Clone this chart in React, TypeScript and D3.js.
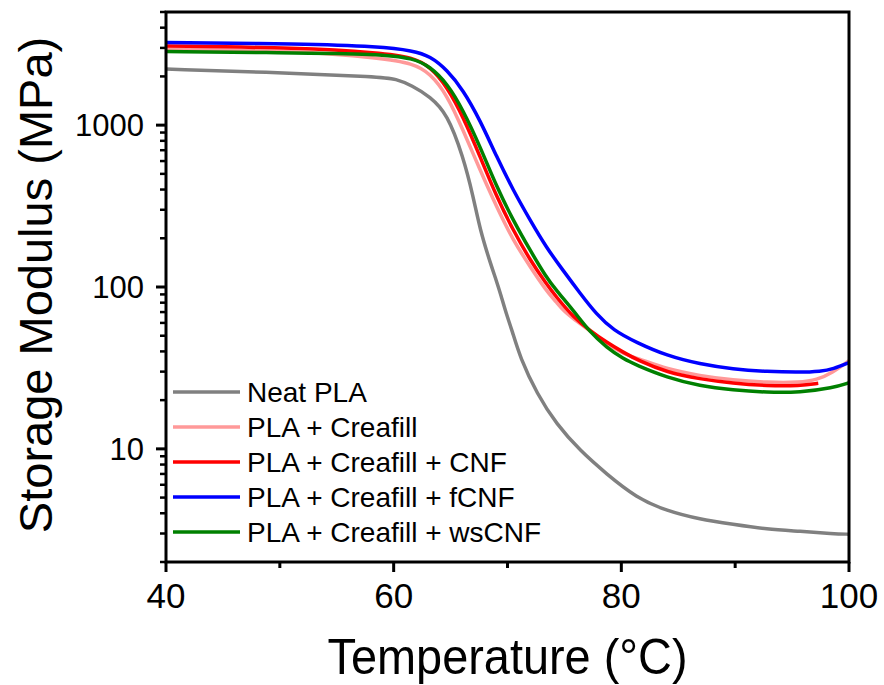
import React from "react";
import * as d3 from "d3";

const xTicksMajor = [40, 60, 80, 100];
const xTicksMinor = [50, 70, 90];
const yTicksMajor = [10, 100, 1000];
const yTickLabels = ["10", "100", "1000"];

const seriesNames = [
  "Neat PLA",
  "PLA + Creafill",
  "PLA + Creafill + CNF",
  "PLA + Creafill + fCNF",
  "PLA + Creafill + wsCNF",
];
const seriesColors = ["#808080", "#FF9999", "#FF0000", "#0000FF", "#008000"];

const tempNeat = [40, 50, 58.8, 60.2, 61.6, 63.2, 64.7, 66.1, 67.0, 67.6, 68.5, 69.05, 69.4, 69.9, 70.4, 71.1, 72.6, 74.3, 76.4, 78.7, 81.3, 84.0, 86.9, 89.8, 92.8, 95.7, 98.6, 100];
const modNeat = [2220, 2110, 1990, 1930, 1760, 1500, 1180, 640, 360, 224, 140, 108, 90, 68, 54, 36.7, 21.8, 14.2, 9.7, 7.0, 5.0, 4.13, 3.67, 3.42, 3.18, 3.10, 2.99, 2.97];

const tempCrea = [40, 51.8, 58.8, 61.7, 63.2, 64.7, 66.1, 67.6, 69.05, 70.5, 72.0, 73.4, 74.3, 74.9, 75.8, 77.25, 78.7, 80.2, 81.6, 84.0, 86.9, 89.8, 92.8, 95.7, 97.15, 98.6, 100];
const modCrea = [2940, 2880, 2590, 2410, 2090, 1535, 931, 526, 312, 194, 133, 95, 80.5, 71.5, 63.5, 53.8, 44.5, 38.5, 35.9, 31.1, 28.3, 26.6, 25.7, 25.7, 26.6, 29.7, 35.1];

const tempCNF = [40, 51.8, 58.8, 61.7, 63.2, 64.7, 66.1, 67.6, 69.05, 70.5, 72.0, 73.4, 74.3, 75.8, 77.25, 78.7, 80.2, 81.5, 84.0, 86.9, 89.8, 92.8, 95.7, 97.3];
const modCNF = [3080, 3010, 2800, 2625, 2300, 1725, 1126, 637, 360, 224, 146, 105, 86.5, 65, 53.8, 45.5, 39.4, 35.1, 29.7, 27.0, 25.4, 24.5, 24.5, 25.4];

const tempFCNF = [40, 51.8, 58.8, 61.7, 63.2, 64.7, 66.1, 67.6, 69.05, 70.5, 72.0, 73.4, 74.9, 76.4, 77.8, 79.3, 81.3, 84.0, 86.9, 89.8, 92.8, 95.7, 97.5, 98.6, 100];
const modFCNF = [3240, 3180, 3055, 2880, 2670, 2190, 1650, 1070, 637, 396, 258, 176, 126, 91, 68, 54, 45.5, 37.6, 33.4, 31.1, 30.0, 29.7, 30.1, 31.1, 34.1];

const tempWs = [40, 50, 58.8, 61.7, 63.2, 64.7, 66.1, 67.6, 69.05, 70.5, 72.0, 73.4, 74.3, 75.8, 77.25, 78.7, 80.2, 81.3, 84.0, 86.9, 89.8, 92.8, 95.7, 98.6, 100];
const modWs = [2850, 2800, 2754, 2590, 2300, 1810, 1240, 735, 415, 258, 168, 115, 95, 71.5, 52.5, 42.4, 35.9, 33, 27.6, 24.5, 23.1, 22.3, 22.3, 23.8, 25.6];

const seriesTemps = [tempNeat, tempCrea, tempCNF, tempFCNF, tempWs];
const seriesMods = [modNeat, modCrea, modCNF, modFCNF, modWs];

const W = 884;
const H = 685;
const L = 166, R = 849, T = 12, B = 562;
const FONT = "'Liberation Sans', Arial, Helvetica, sans-serif";

export default function App() {
  const x = d3.scaleLinear().domain([40, 100]).range([L, R]);
  const y = d3.scaleLog().domain([2, 5000]).range([B, T]);

  const yMinor: number[] = [];
  [1, 10, 100, 1000].forEach((dec) => {
    for (let k = 2; k <= 9; k++) {
      const v = dec * k;
      if (v >= 2 && v <= 5000 && !yTicksMajor.includes(v)) yMinor.push(v);
    }
  });

  const line = d3
    .line<[number, number]>()
    .x((d) => x(d[0]))
    .y((d) => y(d[1]))
    .curve(d3.curveBasis);

  const legendY0 = 392;
  const legendDy = 35;

  return (
    <svg
      width={W}
      height={H}
      style={{ position: "absolute", left: 0, top: 0, background: "#fff" }}
      fontFamily={FONT}
    >
      <rect x={0} y={0} width={W} height={H} fill="#fff" />
      <defs>
        <clipPath id="plotclip">
          <rect x={L} y={T} width={R - L} height={B - T} />
        </clipPath>
      </defs>
      <g clipPath="url(#plotclip)">
        {seriesTemps.map((ts, i) => {
          const pts: [number, number][] = ts.map((t, j) => [t, seriesMods[i][j]]);
          return (
            <path
              key={i}
              d={line(pts) || ""}
              fill="none"
              stroke={seriesColors[i]}
              strokeWidth={3.5}
              strokeLinejoin="round"
            />
          );
        })}
      </g>

      {/* frame */}
      <rect x={L} y={T} width={R - L} height={B - T} fill="none" stroke="#000" strokeWidth={3} />

      {/* x ticks */}
      {xTicksMajor.map((t) => (
        <g key={"xm" + t}>
          <line x1={x(t)} x2={x(t)} y1={B} y2={B + 10} stroke="#000" strokeWidth={3} />
          <text x={x(t)} y={608} fontSize={35} textAnchor="middle" fill="#000">
            {t}
          </text>
        </g>
      ))}
      {xTicksMinor.map((t) => (
        <line key={"xn" + t} x1={x(t)} x2={x(t)} y1={B} y2={B + 6} stroke="#000" strokeWidth={3} />
      ))}

      {/* y ticks */}
      {yTicksMajor.map((v, i) => (
        <g key={"ym" + v}>
          <line x1={L - 10} x2={L} y1={y(v)} y2={y(v)} stroke="#000" strokeWidth={3} />
          <text x={144} y={y(v) + 11} fontSize={31} textAnchor="end" fill="#000">
            {yTickLabels[i]}
          </text>
        </g>
      ))}
      {yMinor.map((v) => (
        <line key={"yn" + v} x1={L - 6} x2={L} y1={y(v)} y2={y(v)} stroke="#000" strokeWidth={2.5} />
      ))}

      {/* axis labels */}
      <text
        x={(L + R) / 2}
        y={674}
        fontSize={50}
        textAnchor="middle"
        textLength={360}
        lengthAdjust="spacingAndGlyphs"
        fill="#000"
      >
        Temperature (°C)
      </text>
      <text
        transform={`translate(52, ${(T + B) / 2 - 2}) rotate(-90)`}
        fontSize={47}
        textAnchor="middle"
        fill="#000"
      >
        Storage Modulus (MPa)
      </text>

      {/* legend */}
      {seriesNames.map((n, i) => (
        <g key={"lg" + i}>
          <line
            x1={173}
            x2={240}
            y1={legendY0 + i * legendDy}
            y2={legendY0 + i * legendDy}
            stroke={seriesColors[i]}
            strokeWidth={3.5}
          />
          <text x={247} y={legendY0 + i * legendDy + 10} fontSize={28} fill="#000">
            {n}
          </text>
        </g>
      ))}
    </svg>
  );
}
